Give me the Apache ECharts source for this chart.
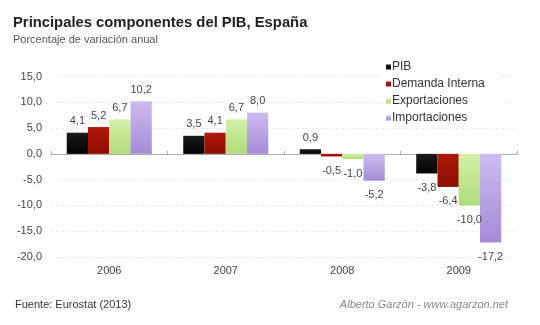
<!DOCTYPE html>
<html>
<head>
<meta charset="utf-8">
<script src="https://cdn.jsdelivr.net/npm/echarts@6/dist/echarts.min.js"></script>
<style>
  html, body { margin: 0; padding: 0; background: #fff; }
  #chart { width: 540px; height: 325px; }
</style>
</head>
<body>
<div id="chart"></div>
<script>
// Años y variación anual (%) de cada componente del PIB
var years = ['2006', '2007', '2008', '2009'];
var pib = [4.1, 3.5, 0.9, -3.8];
var demandaInterna = [5.2, 4.1, -0.5, -6.4];
var exportaciones = [6.7, 6.7, -1.0, -10.0];
var importaciones = [10.2, 8.0, -5.2, -17.2];
var yTicks = { min: -20, max: 15, interval: 5 };

var FONT = '"Liberation Sans", Arial, Helvetica, sans-serif';
var fmt = function (v) { return v.toFixed(1).replace('.', ','); };

function grad(top, bottom) {
  return new echarts.graphic.LinearGradient(0, 0, 0, 1, [
    { offset: 0, color: top }, { offset: 1, color: bottom }
  ]);
}

function makeSeries(name, values, top, bottom) {
  return {
    name: name,
    type: 'bar',
    xAxisIndex: 0,
    barGap: '0%',
    barCategoryGap: '27%',
    itemStyle: { color: grad(top, bottom) },
    data: values.map(function (v) {
      return {
        value: v,
        label: v >= 0 ? { position: 'top', distance: 6 } : { position: 'bottom', distance: 9 }
      };
    }),
    label: {
      show: true,
      color: '#444',
      fontFamily: FONT,
      fontSize: 11,
      formatter: function (p) { return fmt(p.value); }
    }
  };
}

var chart = echarts.init(document.getElementById('chart'), null, { renderer: 'canvas' });
chart.setOption({
  backgroundColor: '#fff',
  animation: false,
  title: [
    { text: 'Principales componentes del PIB, España', left: 13, top: 15, padding: 0,
      textStyle: { fontFamily: FONT, fontSize: 14.8, fontWeight: 'bold', color: '#222' } },
    { text: 'Porcentaje de variación anual', left: 13, top: 34, padding: 0,
      textStyle: { fontFamily: FONT, fontSize: 11, fontWeight: 'normal', color: '#555' } },
    { text: 'Fuente: Eurostat (2013)', left: 15, top: 299, padding: 0,
      textStyle: { fontFamily: FONT, fontSize: 11, fontWeight: 'normal', color: '#333' } },
    { text: 'Alberto Garzón - www.agarzon.net', right: 32, top: 299, padding: 0,
      textStyle: { fontFamily: FONT, fontSize: 11, fontWeight: 'normal', fontStyle: 'italic', color: '#888' } }
  ],
  legend: {
    orient: 'vertical',
    left: 383,
    top: 59,
    icon: 'rect',
    itemWidth: 5,
    itemHeight: 5,
    itemGap: 5,
    padding: [2, 14, 3, 3],
    backgroundColor: '#fff',
    textStyle: { fontFamily: FONT, fontSize: 12, color: '#333', padding: [0, 0, 0, -4] },
    data: ['PIB', 'Demanda Interna', 'Exportaciones', 'Importaciones']
  },
  grid: { left: 51, right: 23, top: 76.5, bottom: 68, containLabel: false },
  xAxis: [
    {
      type: 'category',
      data: years,
      axisLine: { show: false, onZero: false },
      axisTick: { show: false },
      axisLabel: { color: '#444', fontFamily: FONT, fontSize: 11, margin: 8 },
      splitLine: { show: false }
    },
    {
      type: 'category',
      data: years,
      position: 'bottom',
      axisLine: { show: true, onZero: true, lineStyle: { color: '#aaa', width: 1 } },
      axisTick: { show: true, inside: true, length: 3, lineStyle: { color: '#aaa' } },
      axisLabel: { show: false },
      splitLine: { show: false }
    }
  ],
  yAxis: {
    type: 'value',
    min: yTicks.min,
    max: yTicks.max,
    interval: yTicks.interval,
    axisLine: { show: false },
    axisTick: { show: false },
    axisLabel: { color: '#444', fontFamily: FONT, fontSize: 11, margin: 9, formatter: fmt },
    splitLine: { show: true, lineStyle: { color: '#ebebeb', type: [3, 2], width: 1 } }
  },
  series: [
    makeSeries('PIB', pib, '#1c1c1c', '#000000'),
    makeSeries('Demanda Interna', demandaInterna, '#ae1808', '#8e0c00'),
    makeSeries('Exportaciones', exportaciones, '#d3f0a6', '#b1dc7a'),
    makeSeries('Importaciones', importaciones, '#cdbcef', '#a48ad6')
  ]
});
</script>
</body>
</html>
